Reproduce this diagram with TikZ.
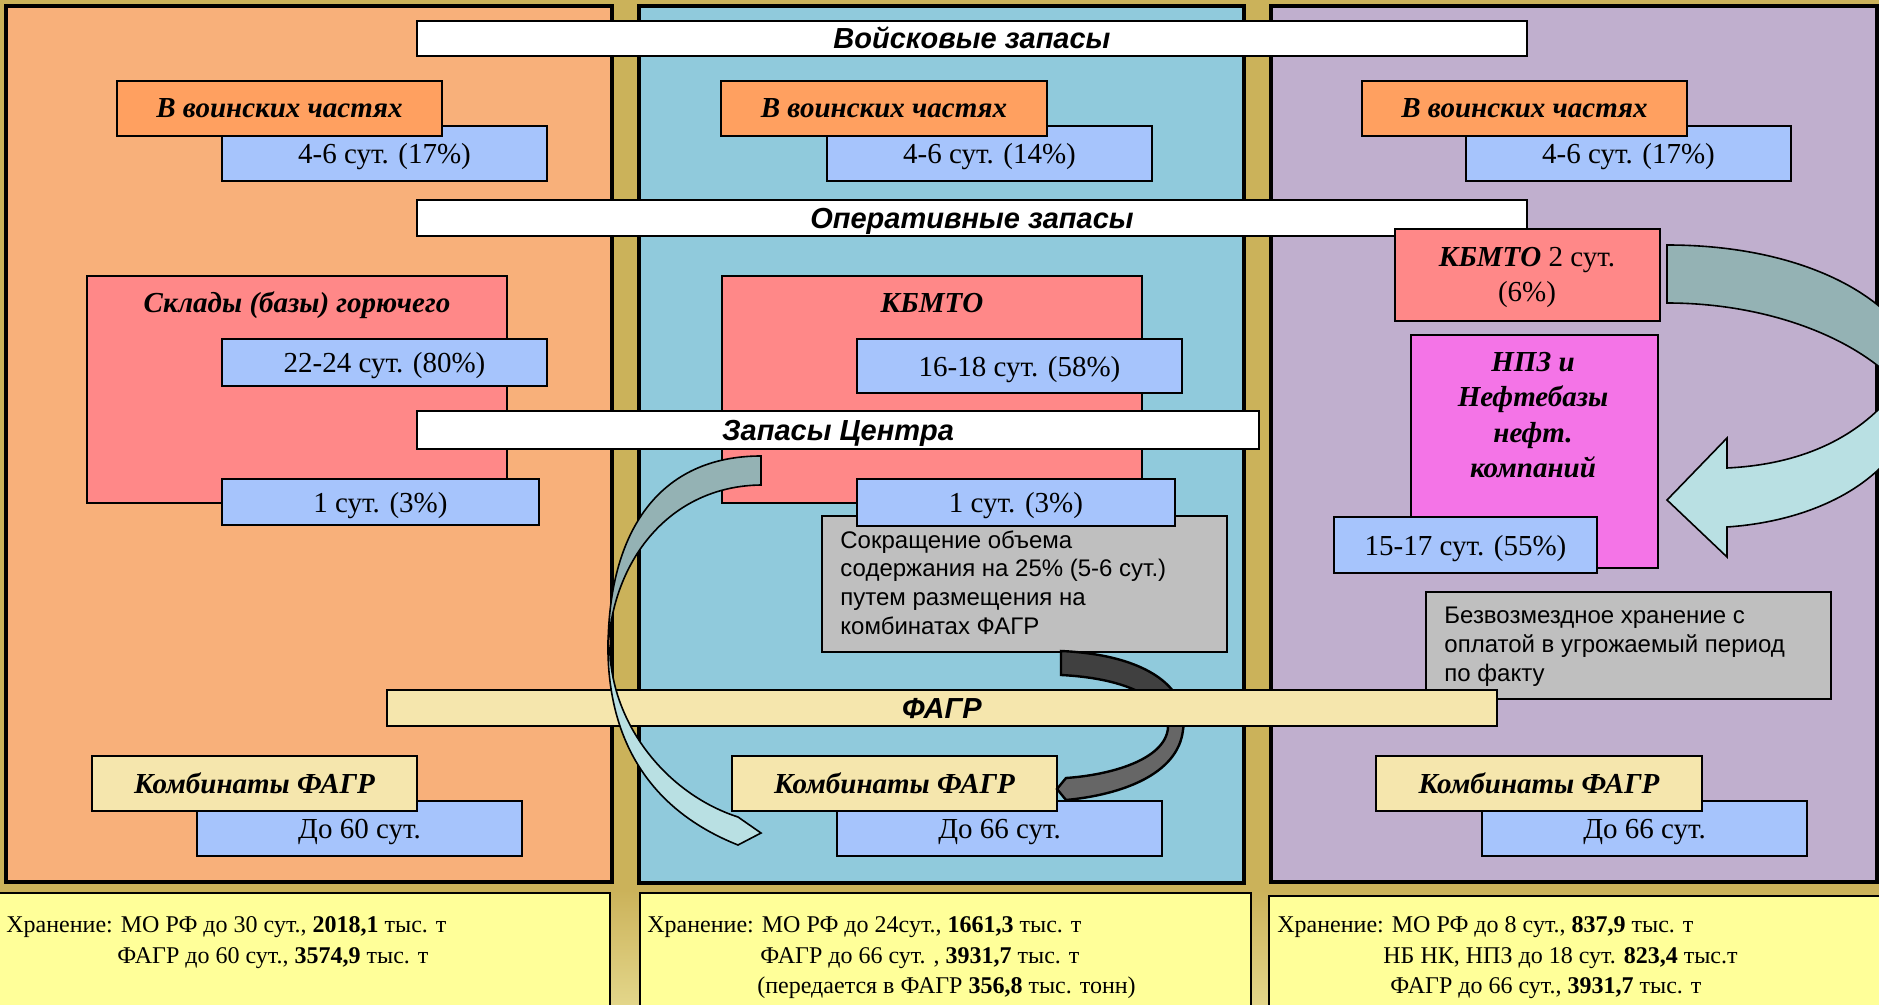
\documentclass[tikz,border=0pt]{standalone}
\usepackage{fontspec}
\setmainfont{Liberation Serif}
\newfontfamily\arialf{Liberation Sans}
\definecolor{goldA}{HTML}{CBB25A}
\definecolor{goldB}{HTML}{E3D68A}
\definecolor{frOrange}{HTML}{F8B07A}
\definecolor{frBlue}{HTML}{90CADC}
\definecolor{frPurple}{HTML}{C0AFCE}
\definecolor{yellowBox}{HTML}{FFFF99}
\definecolor{boxOrange}{HTML}{FFA060}
\definecolor{boxBlue}{HTML}{A6C4FC}
\definecolor{boxRed}{HTML}{FF8888}
\definecolor{boxMag}{HTML}{F474E7}
\definecolor{boxGrey}{HTML}{BFBFBF}
\definecolor{fagr}{HTML}{F5E6AD}
\definecolor{arrDark}{HTML}{94B2B4}
\definecolor{arrLight}{HTML}{B9E0E3}
\definecolor{arrBlack}{HTML}{404040}
\definecolor{arrGrey}{HTML}{666666}
\newcommand\rbox[7]{\node[#1, minimum width={(#5-(#3))*0.5pt}, minimum height={(#6-(#4))*0.5pt}] (#2) at ({(#3+#5)/2},{(#4+#6)/2}) {#7};}
\tikzset{
 box/.style={draw=black, line width=1.4pt, inner sep=0pt, outer sep=0pt},
 frame/.style={box, line width=1.6pt},
 bi/.style={font=\bfseries\itshape\fontsize{14.5}{17}\selectfont},
 bluebox/.style={box, fill=boxBlue, font=\fontsize{14.5}{17}\selectfont, text height=10.4pt, text depth=0pt},
 orbox/.style={box, fill=boxOrange, bi},
 redbox/.style={box, fill=boxRed},
 kfbox/.style={box, fill=fagr, bi},
 greybox/.style={box, fill=boxGrey},
 bar/.style={box, line width=1.2pt, fill=white, font=\arialf\bfseries\itshape\fontsize{14.5}{16}\selectfont, text height=10.4pt, text depth=0pt},
 yb/.style={box, fill=yellowBox},
 btext/.style={anchor=base west, inner sep=0pt, font=\fontsize{12}{14}\selectfont},
 gtext/.style={anchor=north west, inner sep=0pt, align=left, font=\arialf\fontsize{12}{14.4}\selectfont},
 ashape/.style={draw=black, line width=0.8pt},
}
\begin{document}
\begin{tikzpicture}[x=0.5pt, y=-0.5pt]
\useasboundingbox (0,0) rectangle (1879,1005);
\clip (0,0) rectangle (1879,1005);
\shade[top color=goldA, middle color=goldB, bottom color=goldA] (0,0) rectangle (1879,890);
\shade[top color=goldA, bottom color=goldB] (0,890) rectangle (1879,1005);

% column frames
\rbox{frame, fill=frOrange}{fL}{6}{6}{612}{882}{}
\rbox{frame, fill=frBlue}{fM}{639}{6}{1244}{883}{}
\rbox{frame, fill=frPurple}{fR}{1271}{6}{1877}{882}{}
% bottom yellow boxes
\rbox{yb}{yL}{-10}{893}{610}{1020}{}
\rbox{yb}{yM}{640}{893}{1251}{1020}{}
\rbox{yb}{yR}{1269}{896}{1890}{1020}{}

% left column
\rbox{bluebox}{lb1}{222}{126}{547}{181}{4-6 сут. (17\%)}
\rbox{orbox}{lo1}{117}{81}{442}{136}{В воинских частях}
\rbox{redbox}{lred}{87}{276}{507}{503}{}
\node[bi, inner sep=0pt] (lredt) at (297,305) {Склады (базы) горючего};
\rbox{bluebox}{lb2}{222}{339}{547}{386}{22-24 сут. (80\%)}
\rbox{bluebox}{lb3}{222}{479}{539}{525}{1 сут. (3\%)}
\rbox{bluebox}{lb4}{197}{801}{522}{856}{До 60 сут.}
\rbox{kfbox}{lkf}{92}{756}{417}{811}{Комбинаты ФАГР}

% middle column
\rbox{bluebox}{mb1}{827}{126}{1152}{181}{4-6 сут. (14\%)}
\rbox{orbox}{mo1}{721}{81}{1047}{136}{В воинских частях}
\rbox{redbox}{mred}{722}{276}{1142}{503}{}
\node[bi, inner sep=0pt] (mredt) at (932,303) {КБМТО};
\rbox{bluebox}{mb2}{857}{339}{1182}{393}{16-18 сут. (58\%)}
\rbox{greybox}{mgrey}{822}{516}{1227}{652}{}
\node[gtext] (mgreyt) at (840,530) {Сокращение объема\\содержания на 25\% (5-6 сут.)\\путем размещения на\\комбинатах ФАГР};
\rbox{bluebox}{mb3}{857}{479}{1175}{526}{1 сут. (3\%)}
\rbox{bluebox}{mb4}{837}{801}{1162}{856}{До 66 сут.}
\rbox{kfbox}{mkf}{732}{756}{1057}{811}{Комбинаты ФАГР}

% right column
\rbox{bluebox}{rb1}{1466}{126}{1791}{181}{4-6 сут. (17\%)}
\rbox{orbox}{ro1}{1362}{81}{1687}{136}{В воинских частях}
\rbox{box, fill=boxMag}{rmag}{1411}{335}{1658}{568}{}
\node[bi, inner sep=0pt, align=center, font=\bfseries\itshape\fontsize{14.5}{17.75}\selectfont] (rmagt) at (1533,415) {НПЗ и\\Нефтебазы\\нефт.\\компаний};
\rbox{bluebox}{rb2}{1334}{517}{1597}{573}{15-17 сут. (55\%)}
\rbox{greybox}{rgrey}{1426}{592}{1831}{699}{}
\node[gtext, font=\arialf\fontsize{12}{14.5}\selectfont] (rgreyt) at (1444,607) {Безвозмездное хранение с\\оплатой в угрожаемый период\\по факту};
\rbox{bluebox}{rb3}{1482}{801}{1807}{856}{До 66 сут.}
\rbox{kfbox}{rkf}{1376}{756}{1702}{811}{Комбинаты ФАГР}

% dark curved arrow (middle column)
\def\darkarrow{(1061,651) .. controls (1150,655) and (1190,690) .. (1183,730)
  .. controls (1178,775) and (1120,795) .. (1066,800) -- (1057,789) -- (1066,778)
  .. controls (1110,775) and (1165,760) .. (1168,728)
  .. controls (1165,695) and (1120,678) .. (1061,675) -- cycle}
\begin{scope}
\clip (1000,600) rectangle (1250,708);
\fill[arrBlack] \darkarrow;
\end{scope}
\begin{scope}
\clip (1000,708) rectangle (1250,860);
\fill[arrGrey] \darkarrow;
\end{scope}
\draw[ashape, line width=1.2pt] \darkarrow;

% header bars
\rbox{bar}{barV}{417}{21}{1527}{56}{Войсковые запасы}
\rbox{bar}{barO}{417}{200}{1527}{236}{Оперативные запасы}
\rbox{bar}{barC}{417}{411}{1259}{449}{Запасы Центра}
\rbox{bar, fill=fagr}{barF}{387}{690}{1497}{726}{ФАГР}

% right KBMTO box
\rbox{redbox}{rred}{1395}{229}{1660}{321}{}
\node[inner sep=0pt, align=center, font=\fontsize{14.5}{17.5}\selectfont] (rredt) at (1527,277) {\textbf{\textit{КБМТО}} 2 сут.\\(6\%)};

% left curved arrow (Centre -> FAGR)
\filldraw[ashape, fill=arrDark] (761,456) .. controls (660,456) and (608,530) .. (608,650)
  .. controls (612,560) and (670,486) .. (761,485) -- cycle;
\filldraw[ashape, fill=arrLight] (608,640) .. controls (606,740) and (650,810) .. (738,845)
  -- (761,833) -- (738,817)
  .. controls (670,795) and (615,730) .. (610,655) -- cycle;

% right curved arrow (KBMTO -> oil companies)
\filldraw[ashape, fill=arrDark] (1667,245) .. controls (1770,245) and (1850,275) .. (1892,318)
  -- (1892,378) .. controls (1845,333) and (1760,303) .. (1667,303) -- cycle;
\filldraw[ashape, fill=arrLight] (1892,395) .. controls (1850,445) and (1790,465) .. (1727,468)
  -- (1727,438) -- (1667,500) -- (1727,557) -- (1727,527)
  .. controls (1800,522) and (1860,495) .. (1892,455) -- cycle;

% bottom texts
\node[btext] (tL1) at (6,932) {Хранение: МО РФ до 30 сут., \textbf{2018,1} тыс. т};
\node[btext] (tL2) at (117,963) {ФАГР до 60 сут., \textbf{3574,9} тыс. т};
\node[btext] (tM1) at (647,932) {Хранение: МО РФ до 24сут., \textbf{1661,3} тыс. т};
\node[btext] (tM2) at (760,963) {ФАГР до 66 сут. , \textbf{3931,7} тыс. т};
\node[btext] (tM3) at (757,993) {(передается в ФАГР \textbf{356,8} тыс. тонн)};
\node[btext] (tR1) at (1277,932) {Хранение: МО РФ до 8 сут., \textbf{837,9} тыс. т};
\node[btext] (tR2) at (1383,963) {НБ НК, НПЗ до 18 сут. \textbf{823,4} тыс.т};
\node[btext] (tR3) at (1390,993) {ФАГР до 66 сут., \textbf{3931,7} тыс. т};
\end{tikzpicture}
\end{document}
